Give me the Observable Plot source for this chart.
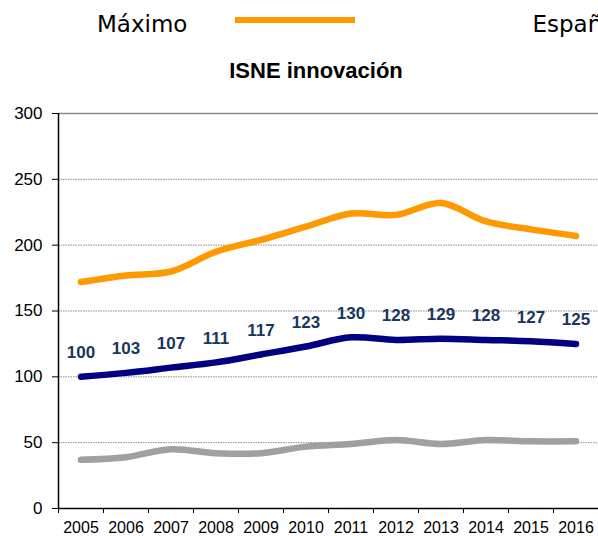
<!DOCTYPE html>
<html>
<head>
<meta charset="utf-8">
<script src="https://cdn.jsdelivr.net/npm/d3@7"></script>
<script src="https://cdn.jsdelivr.net/npm/@observablehq/plot@0.6"></script>
<style>
  html, body { margin: 0; padding: 0; background: #fff; }
  body { width: 598px; height: 536px; overflow: hidden; position: relative; font-family: "Liberation Sans", Arial, sans-serif; }
  .leg { position: absolute; font-family: "DejaVu Sans", Verdana, sans-serif; font-size: 23px; line-height: 1; color: #000; white-space: nowrap; }
  .legline { position: absolute; height: 6px; }
  #title { position: absolute; left: 0; width: 632px; top: 60px; text-align: center; font-weight: bold; font-size: 22px; line-height: 1; color: #000; white-space: nowrap; }
  #chart { position: absolute; left: 0; top: 100px; }
</style>
</head>
<body>
<div class="leg" style="left:97px; top:12.5px;">Máximo</div>
<div class="legline" style="left:235px; top:17px; width:120px; background:#FF9900;"></div>
<div class="leg" style="left:532.5px; top:12.5px;">España</div>
<div id="title">ISNE innovación</div>
<div id="chart"></div>
<script>
const years = [2005, 2006, 2007, 2008, 2009, 2010, 2011, 2012, 2013, 2014, 2015, 2016];
const maximo = [172, 177, 180, 195, 204, 214, 224, 223, 232, 218, 212, 207];
const espana = [100, 103, 107, 111, 117, 123, 130, 128, 129, 128, 127, 125];
const minimo = [37, 39, 45, 42, 42, 47, 49, 52, 49, 52, 51, 51];
const yTicks = [0, 50, 100, 150, 200, 250, 300];

const rows = (vals, serie) => years.map((y, i) => ({year: y, value: vals[i], serie}));
const dMax = rows(maximo, "Máximo");
const dEsp = rows(espana, "España");
const dMin = rows(minimo, "Mínimo");
const boundaries = d3.range(years[0] - 0.5, years[years.length - 1] + 1, 1);

const chart = Plot.plot({
  width: 598,
  height: 436,
  marginTop: 13,
  marginBottom: 28,
  marginLeft: 58,
  marginRight: 0,
  style: {fontFamily: "'Liberation Sans', Arial, sans-serif", background: "#fff", overflow: "visible"},
  x: {domain: [years[0] - 0.5, years[years.length - 1] + 0.5], axis: null, label: null},
  y: {domain: [0, 300], axis: null, label: null},
  marks: [
    Plot.ruleY(yTicks.filter(t => t > 0 && t < 300), {stroke: "#8a8a8a", strokeWidth: 1, strokeDasharray: "1.5,1"}),
    Plot.ruleY([300], {stroke: "#8a8a8a", strokeWidth: 1.5}),
    Plot.ruleY([0], {stroke: "#000", strokeWidth: 1.5}),
    Plot.ruleX([years[0] - 0.5], {stroke: "#000", strokeWidth: 1.5}),
    Plot.axisY({ticks: yTicks, label: null, tickSize: 6, tickPadding: 10, fontSize: 17, stroke: "#000", color: "#000", tickFormat: d => String(d)}),
    Plot.axisX({ticks: boundaries, label: null, tickSize: 5, tickFormat: () => "", stroke: "#000"}),
    Plot.axisX({ticks: years, label: null, tickSize: 0, tickPadding: 13.5, fontSize: 16, tickFormat: d => String(d), color: "#000", style: {letterSpacing: "-0.4px"}}),
    Plot.line(dMin, {x: "year", y: "value", stroke: "#A0A0A0", strokeWidth: 6.5, curve: "catmull-rom"}),
    Plot.line(dMax, {x: "year", y: "value", stroke: "#FF9900", strokeWidth: 6.5, curve: "catmull-rom"}),
    Plot.line(dEsp, {x: "year", y: "value", stroke: "#000080", strokeWidth: 6.5, curve: "catmull-rom"}),
    Plot.text(dEsp, {x: "year", y: "value", text: d => String(d.value), dy: -24, fill: "#17375E", fontWeight: "bold", fontSize: 17})
  ]
});
document.getElementById("chart").appendChild(chart);
</script>
</body>
</html>
